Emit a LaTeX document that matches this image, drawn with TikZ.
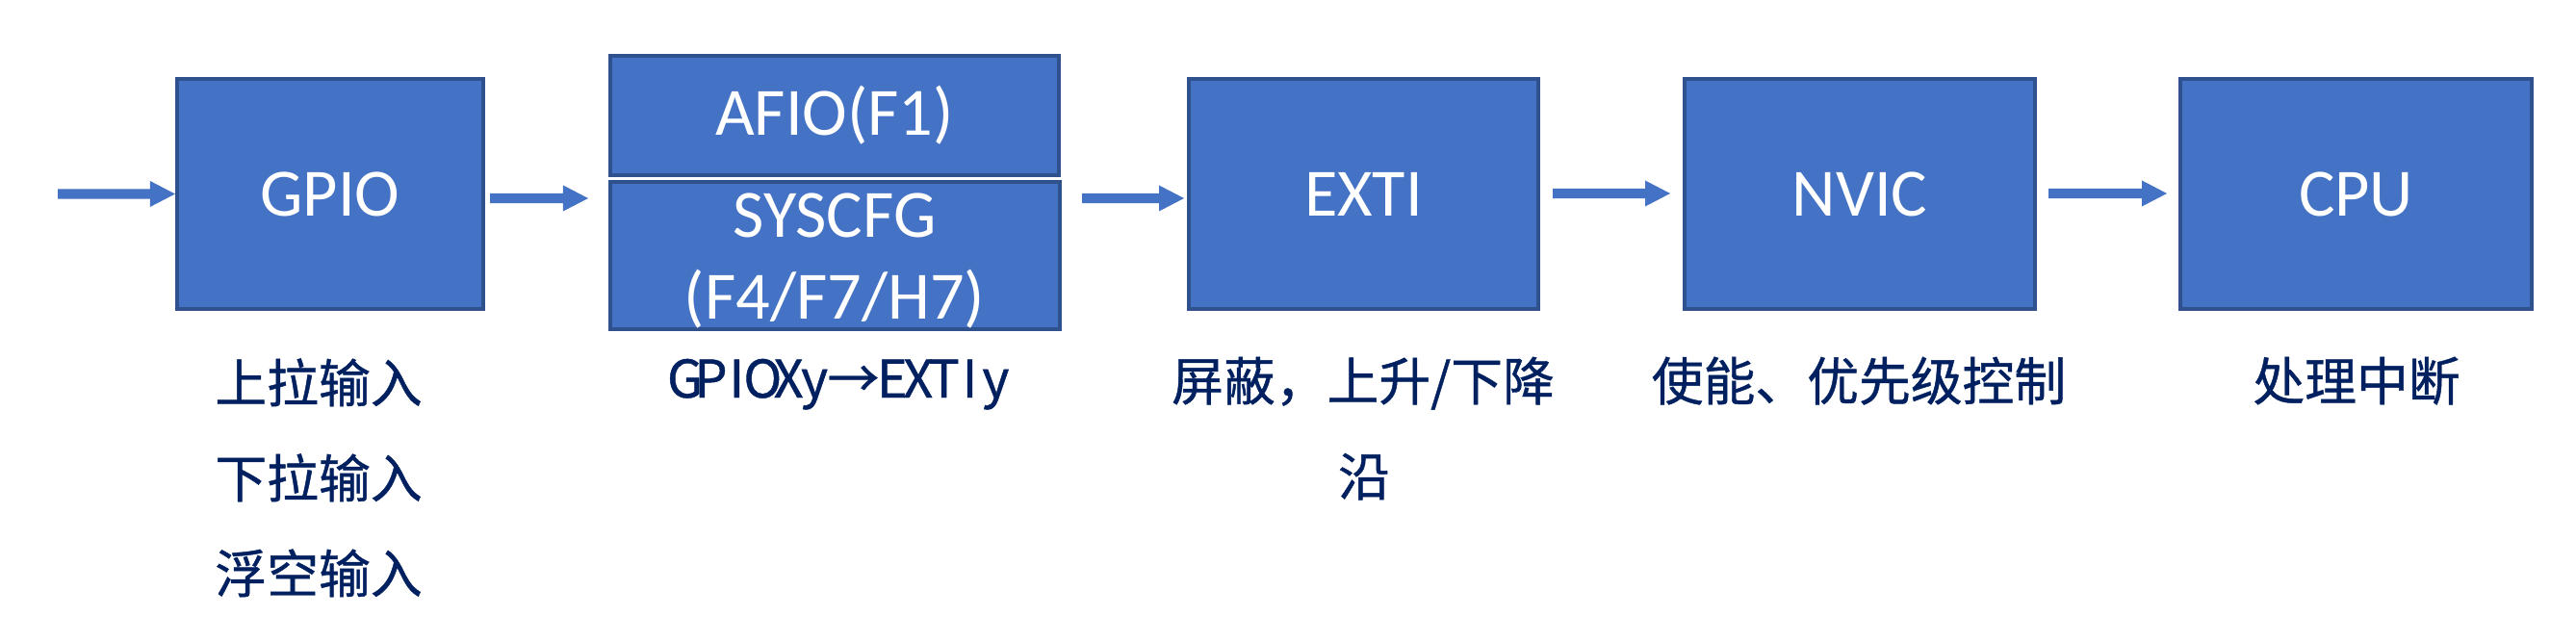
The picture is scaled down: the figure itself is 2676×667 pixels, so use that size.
\documentclass[tikz,border=0pt]{standalone}
\usepackage{fontspec}
\setmainfont{Carlito}
\newfontfamily\cjk[FakeBold=0.8]{Noto Sans CJK SC}
\usetikzlibrary{calc}
\definecolor{boxfill}{HTML}{4472C4}
\definecolor{boxline}{HTML}{2F528F}
\definecolor{navy}{HTML}{002060}
\tikzset{
  blk/.style={draw=boxline, fill=boxfill, line width=0.04cm, inner sep=0pt,
    text=white, font=\fontsize{20}{24}\selectfont},
  lbl/.style={text=white, font=\fontsize{20}{24}\selectfont, inner sep=0pt, anchor=base},
  note/.style={text=navy, font=\cjk\fontsize{15.3}{18}\selectfont, inner sep=0pt, anchor=base},
  arr/.style={fill=boxfill},
}
\newcommand\mc[1]{\makebox[0.5em]{#1}}
% block arrow from #1 to tip #2 (horizontal, y taken from the tip)
\newcommand\blockarrow[2]{%
  \fill[arr] let \p1=(#1), \p2=(#2) in
    (\x1,\y2+0.05cm) -- (\x2-0.26cm,\y2+0.05cm) -- (\x2-0.26cm,\y2+0.135cm) --
    (\x2,\y2) -- (\x2-0.26cm,\y2-0.135cm) -- (\x2-0.26cm,\y2-0.05cm) --
    (\x1,\y2-0.05cm) -- cycle;}
\begin{document}
\begin{tikzpicture}[x=0.01cm,y=-0.01cm]
\useasboundingbox (0,0) rectangle (2676,667);

% boxes
\node[blk, minimum width=3.18cm, minimum height=2.39cm] (gpio) at (343,201.5) {GPIO};
\node[blk, minimum width=4.66cm, minimum height=1.24cm] (afio) at (867,120) {AFIO(F1)};
\node[blk, minimum width=4.67cm, minimum height=1.53cm] (syscfg) at (867.5,265.5) {};
\node[lbl] (sys1) at (867,247) {SYSCFG};
\node[lbl] (sys2) at (867,331) {(F4/F7/H7)};
\node[blk, minimum width=3.63cm, minimum height=2.39cm] (exti) at (1416.5,201.5) {EXTI};
\node[blk, minimum width=3.64cm, minimum height=2.39cm] (nvic) at (1932,201.5) {NVIC};
\node[blk, minimum width=3.65cm, minimum height=2.39cm] (cpu) at (2447.5,201.5) {CPU};

% arrow end points
\coordinate (in) at (60,201.5);
\coordinate (a2s) at (509,206);
\coordinate (a2e) at (611,206);
\coordinate (a3s) at (1124,206);
\coordinate (a3e) at (1230,206);
\coordinate (a4s) at (1613,201);
\coordinate (a4e) at (1735,201);
\coordinate (a5s) at (2128,201);
\coordinate (a5e) at (2251,201);

\blockarrow{in}{gpio.west}
\blockarrow{a2s}{a2e}
\blockarrow{a3s}{a3e}
\blockarrow{a4s}{a4e}
\blockarrow{a5s}{a5e}

% notes
\node[note] (g1) at (331,418) {上拉输入};
\node[note] (g2) at (331,517) {下拉输入};
\node[note] (g3) at (331,616) {浮空输入};
\node[note] (map) at (873,413) {\mc{G}\mc{P}\mc{I}\mc{O}\mc{X}\mc{y}\makebox[1em]{→}\mc{E}\mc{X}\mc{T}\mc{I}\mc{y}};
\node[note] (e1) at (1416,416) {屏蔽，上升/下降};
\node[note] (e2) at (1417,515) {沿};
\node[note] (n1) at (1931,416) {使能、优先级控制};
\node[note] (c1) at (2448,416) {处理中断};
\end{tikzpicture}
\end{document}
